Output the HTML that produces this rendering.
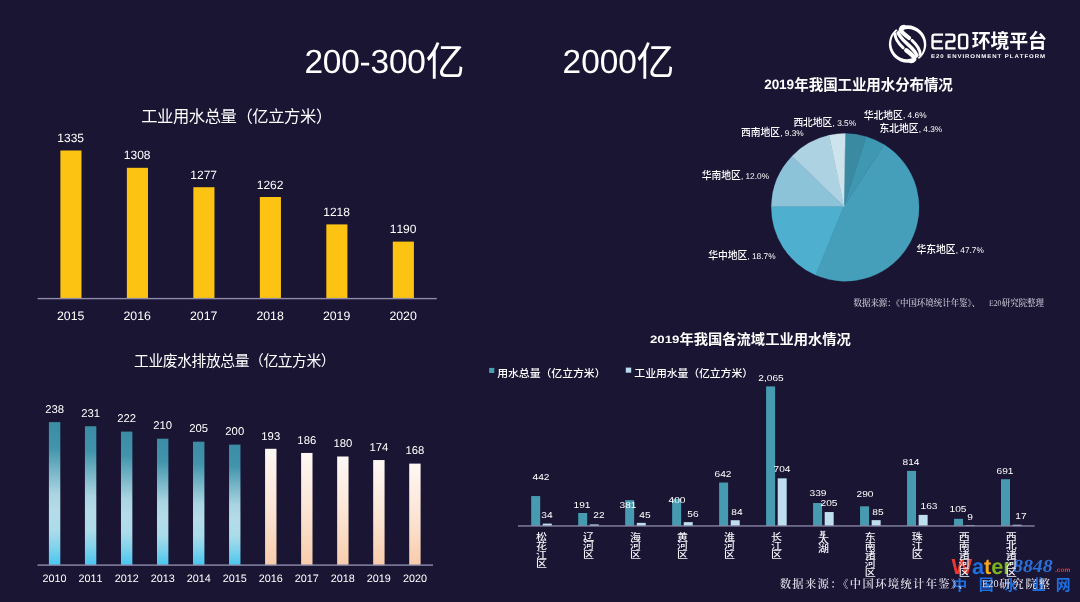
<!DOCTYPE html>
<html lang="zh"><head><meta charset="utf-8"><title>工业用水与废水排放</title>
<style>
html,body{margin:0;padding:0;background:#1a1533;}
#slide{position:relative;width:1080px;height:602px;overflow:hidden;background:#1a1533;font-family:"Liberation Sans",sans-serif;}
#layer{position:absolute;left:0;top:0;width:1080px;height:602px;filter:blur(0.45px);}
#slide svg{position:absolute;left:0;top:0;z-index:1;}
#wm{position:absolute;left:0;top:0;z-index:0;}
#wm .t{z-index:0;}
.t{position:absolute;z-index:2;text-rendering:geometricPrecision;font-kerning:none;line-height:1;white-space:nowrap;font-family:"Liberation Sans",sans-serif;color:#fff;}
.s{font-family:"Liberation Serif",serif;}
svg text{font-family:"Liberation Sans","Noto Sans CJK SC",sans-serif;}
svg text.sf{font-family:"Liberation Serif","Noto Serif CJK SC",serif;}
</style></head><body>
<div id="slide"><div id="layer">
<div id="wm"><div class="t" style="left:951.6px;top:555.55px;font-size:21.8px;color:#e8392f;font-weight:bold;">W</div>
<div class="t" style="left:971.99px;top:555.55px;font-size:21.8px;color:#1f6fe0;font-weight:bold;">a</div>
<div class="t" style="left:984px;top:555.55px;font-size:21.8px;color:#f5a81c;font-weight:bold;">t</div>
<div class="t" style="left:991.19px;top:555.55px;font-size:21.8px;color:#7ab51d;font-weight:bold;">e</div>
<div class="t" style="left:1003.2px;top:555.55px;font-size:21.8px;color:#7ab51d;font-weight:bold;">r</div>
<div class="t s" style="left:1012.8px;top:557.09px;font-size:18.4px;color:#2a6fd6;font-weight:bold;font-style:italic;transform:scale(1.08,1);transform-origin:0 83.74%;">8848</div>
<div class="t" style="left:1055px;top:568.3px;font-size:6.5px;color:#e8392f;font-weight:bold;">.com</div></div>
<svg width="1080" height="602" viewBox="0 0 1080 602">
<defs><linearGradient id="gt" x1="0" y1="0" x2="0" y2="1"><stop offset="0" stop-color="#3a8da4"/><stop offset="0.18" stop-color="#4194ab"/><stop offset="0.3" stop-color="#69adc0"/><stop offset="0.5" stop-color="#a9d4e1"/><stop offset="0.62" stop-color="#b5dce8"/><stop offset="0.76" stop-color="#aadcea"/><stop offset="0.88" stop-color="#7fd2ec"/><stop offset="1" stop-color="#47c6ef"/></linearGradient><linearGradient id="gp" x1="0" y1="0" x2="0" y2="1"><stop offset="0" stop-color="#fef8f4"/><stop offset="0.55" stop-color="#fbe3d2"/><stop offset="1" stop-color="#f8ccab"/></linearGradient></defs>
<text transform="translate(952.06,589.57) scale(1.1019,1)" font-size="13.84" font-weight="bold" fill="#1f6fe0">中</text>
<text transform="translate(978.67,589.53) scale(1.0297,1)" font-size="14.48" font-weight="bold" fill="#1f6fe0">国</text>
<text transform="translate(1004.51,589.54) scale(0.9479,1)" font-size="13.83" font-weight="bold" fill="#1f6fe0">水</text>
<text transform="translate(1031.69,590.16) scale(0.9479,1)" font-size="14.77" font-weight="bold" fill="#1f6fe0">业</text>
<text transform="translate(1055.66,589.5) scale(1.0081,1)" font-size="14.74" font-weight="bold" fill="#1f6fe0">网</text>
<text transform="translate(425.79,75.23) scale(1.0215,1)" font-size="38.1" fill="#fff">亿</text>
<text transform="translate(636.42,75.23) scale(0.9955,1)" font-size="38.1" fill="#fff">亿</text>
<text x="141.2" y="121.61" font-size="16.3" letter-spacing="-0.4" fill="#fff">工业用水总量（亿立方米）</text>
<rect x="60.4" y="150.5" width="21.1" height="148.1" fill="#fcc312"/>
<rect x="126.88" y="167.8" width="21.1" height="130.8" fill="#fcc312"/>
<rect x="193.36" y="187.2" width="21.1" height="111.4" fill="#fcc312"/>
<rect x="259.84" y="197" width="21.1" height="101.6" fill="#fcc312"/>
<rect x="326.32" y="224.4" width="21.1" height="74.2" fill="#fcc312"/>
<rect x="392.8" y="241.6" width="21.1" height="57" fill="#fcc312"/>
<rect x="37.6" y="297.9" width="399.2" height="1.4" fill="#8e8bab"/>
<text x="134.09" y="366.44" font-size="14.8" letter-spacing="-0.43" fill="#fff">工业废水排放总量（亿立方米）</text>
<rect x="48.9" y="422.1" width="11.4" height="143" fill="url(#gt)"/>
<rect x="84.93" y="426.25" width="11.4" height="138.85" fill="url(#gt)"/>
<rect x="120.96" y="431.59" width="11.4" height="133.51" fill="url(#gt)"/>
<rect x="156.99" y="438.7" width="11.4" height="126.4" fill="url(#gt)"/>
<rect x="193.02" y="441.67" width="11.4" height="123.43" fill="url(#gt)"/>
<rect x="229.05" y="444.63" width="11.4" height="120.47" fill="url(#gt)"/>
<rect x="265.08" y="448.79" width="11.4" height="116.31" fill="url(#gp)"/>
<rect x="301.11" y="452.94" width="11.4" height="112.16" fill="url(#gp)"/>
<rect x="337.14" y="456.49" width="11.4" height="108.61" fill="url(#gp)"/>
<rect x="373.17" y="460.05" width="11.4" height="105.05" fill="url(#gp)"/>
<rect x="409.2" y="463.61" width="11.4" height="101.49" fill="url(#gp)"/>
<rect x="37.5" y="564.4" width="395.5" height="1.4" fill="#8e8bab"/>
<path d="M843.9,206.3L845.2,133.6A73.8,73.8 0 0 1 866.21,136.66Z" fill="#3a8aa2" stroke="#3a8aa2" stroke-width="0.4"/>
<path d="M843.9,206.3L866.21,136.66A73.8,73.8 0 0 1 884.32,144.82Z" fill="#3f98b1" stroke="#3f98b1" stroke-width="0.4"/>
<path d="M843.9,206.3L884.32,144.82A73.8,73.8 0 0 1 815.71,275.05Z" fill="#469fba" stroke="#469fba" stroke-width="0.4"/>
<path d="M843.9,206.3L815.71,275.05A73.8,73.8 0 0 1 771.41,206.36Z" fill="#4eb0ce" stroke="#4eb0ce" stroke-width="0.4"/>
<path d="M843.9,206.3L771.41,206.36A73.8,73.8 0 0 1 792.08,156.17Z" fill="#8dc3d8" stroke="#8dc3d8" stroke-width="0.4"/>
<path d="M843.9,206.3L792.08,156.17A73.8,73.8 0 0 1 829.12,135.37Z" fill="#add3e2" stroke="#add3e2" stroke-width="0.4"/>
<path d="M843.9,206.3L829.12,135.37A73.8,73.8 0 0 1 845.2,133.6Z" fill="#cde4ed" stroke="#cde4ed" stroke-width="0.4"/>
<text x="794.35" y="89.62" font-size="14.5" font-weight="bold" letter-spacing="-0.1" fill="#fff">年我国工业用水分布情况</text>
<text x="863.78" y="118.58" font-size="9.8" font-weight="500" letter-spacing="-0.05" fill="#fff">华北地区</text>
<text x="879.48" y="131.86" font-size="9.8" font-weight="500" letter-spacing="-0.05" fill="#fff">东北地区</text>
<text x="793.38" y="126.12" font-size="9.8" font-weight="500" letter-spacing="-0.05" fill="#fff">西北地区</text>
<text x="740.98" y="135.89" font-size="9.8" font-weight="500" letter-spacing="-0.05" fill="#fff">西南地区</text>
<text x="701.68" y="178.88" font-size="9.8" font-weight="500" letter-spacing="-0.05" fill="#fff">华南地区</text>
<text x="708.18" y="259.28" font-size="9.8" font-weight="500" letter-spacing="-0.05" fill="#fff">华中地区</text>
<text x="916.48" y="252.78" font-size="9.8" font-weight="500" letter-spacing="-0.05" fill="#fff">华东地区</text>
<text class="sf" transform="translate(853.5,306.27) scale(0.9849,1)" font-size="8.6" font-weight="500" fill="#d0cfdc">数据来源：《中国环境统计年鉴》、</text>
<text class="sf" transform="translate(1001.73,306.27) scale(0.9849,1)" font-size="8.6" font-weight="500" fill="#d0cfdc">研究院整理</text>
<text transform="translate(679.59,344.15) scale(1.0833,1)" font-size="13.2" font-weight="bold" letter-spacing="-0.03" fill="#fff">年我国各流域工业用水情况</text>
<rect x="489.1" y="367.9" width="5.2" height="5.1" fill="#4a9cb2"/>
<text transform="translate(497.18,377.07) scale(1.0583,1)" font-size="10.3" font-weight="500" letter-spacing="-0.05" fill="#fff">用水总量（亿立方米）</text>
<rect x="625.8" y="367.6" width="5.4" height="5.1" fill="#b9dbee"/>
<text transform="translate(634.35,377.07) scale(1.0583,1)" font-size="10.3" font-weight="500" letter-spacing="-0.1" fill="#fff">工业用水量（亿立方米）</text>
<rect x="531.2" y="496.04" width="9" height="29.86" fill="#469bb1"/>
<rect x="542.8" y="523.6" width="9" height="2.3" fill="#bfdfee"/>
<text transform="translate(536,539.91) scale(1.2571,1)" font-size="8.75" font-weight="500" fill="#f4f4f8"><tspan x="0" y="0">松</tspan><tspan x="0" y="8.93">花</tspan><tspan x="0" y="17.86">江</tspan><tspan x="0" y="26.79">区</tspan></text>
<rect x="578.18" y="513" width="9" height="12.9" fill="#469bb1"/>
<rect x="589.78" y="524.41" width="9" height="1.49" fill="#bfdfee"/>
<text transform="translate(582.98,539.91) scale(1.2571,1)" font-size="8.75" font-weight="500" fill="#f4f4f8"><tspan x="0" y="0">辽</tspan><tspan x="0" y="8.93">河</tspan><tspan x="0" y="17.86">区</tspan></text>
<rect x="625.16" y="500.16" width="9" height="25.74" fill="#469bb1"/>
<rect x="636.76" y="522.86" width="9" height="3.04" fill="#bfdfee"/>
<text transform="translate(629.96,539.91) scale(1.2571,1)" font-size="8.75" font-weight="500" fill="#f4f4f8"><tspan x="0" y="0">海</tspan><tspan x="0" y="8.93">河</tspan><tspan x="0" y="17.86">区</tspan></text>
<rect x="672.14" y="498.88" width="9" height="27.02" fill="#469bb1"/>
<rect x="683.74" y="522.12" width="9" height="3.78" fill="#bfdfee"/>
<text transform="translate(676.94,539.91) scale(1.2571,1)" font-size="8.75" font-weight="500" fill="#f4f4f8"><tspan x="0" y="0">黄</tspan><tspan x="0" y="8.93">河</tspan><tspan x="0" y="17.86">区</tspan></text>
<rect x="719.12" y="482.53" width="9" height="43.37" fill="#469bb1"/>
<rect x="730.72" y="520.23" width="9" height="5.67" fill="#bfdfee"/>
<text transform="translate(723.92,539.91) scale(1.2571,1)" font-size="8.75" font-weight="500" fill="#f4f4f8"><tspan x="0" y="0">淮</tspan><tspan x="0" y="8.93">河</tspan><tspan x="0" y="17.86">区</tspan></text>
<rect x="766.1" y="386.4" width="9" height="139.5" fill="#469bb1"/>
<rect x="777.7" y="478.34" width="9" height="47.56" fill="#bfdfee"/>
<text transform="translate(770.9,539.91) scale(1.2571,1)" font-size="8.75" font-weight="500" fill="#f4f4f8"><tspan x="0" y="0">长</tspan><tspan x="0" y="8.93">江</tspan><tspan x="0" y="17.86">区</tspan></text>
<rect x="813.08" y="503" width="9" height="22.9" fill="#469bb1"/>
<rect x="824.68" y="512.05" width="9" height="13.85" fill="#bfdfee"/>
<text transform="translate(817.88,543.22) scale(1.2571,1)" font-size="8.75" font-weight="500" fill="#f4f4f8"><tspan x="0" y="0">太</tspan><tspan x="0" y="8.92">湖</tspan></text>
<rect x="860.06" y="506.31" width="9" height="19.59" fill="#469bb1"/>
<rect x="871.66" y="520.16" width="9" height="5.74" fill="#bfdfee"/>
<text transform="translate(864.86,539.91) scale(1.2571,1)" font-size="8.75" font-weight="500" fill="#f4f4f8"><tspan x="0" y="0">东</tspan><tspan x="0" y="8.93">南</tspan><tspan x="0" y="17.86">诸</tspan><tspan x="0" y="26.79">河</tspan><tspan x="0" y="35.72">区</tspan></text>
<rect x="907.04" y="470.91" width="9" height="54.99" fill="#469bb1"/>
<rect x="918.64" y="514.89" width="9" height="11.01" fill="#bfdfee"/>
<text transform="translate(911.84,539.91) scale(1.2571,1)" font-size="8.75" font-weight="500" fill="#f4f4f8"><tspan x="0" y="0">珠</tspan><tspan x="0" y="8.93">江</tspan><tspan x="0" y="17.86">区</tspan></text>
<rect x="954.02" y="518.81" width="9" height="7.09" fill="#469bb1"/>
<rect x="965.62" y="525.2" width="9" height="0.7" fill="#bfdfee"/>
<text transform="translate(958.82,539.91) scale(1.2571,1)" font-size="8.75" font-weight="500" fill="#f4f4f8"><tspan x="0" y="0">西</tspan><tspan x="0" y="8.93">南</tspan><tspan x="0" y="17.86">诸</tspan><tspan x="0" y="26.79">河</tspan><tspan x="0" y="35.72">区</tspan></text>
<rect x="1001" y="479.22" width="9" height="46.68" fill="#469bb1"/>
<rect x="1012.6" y="524.75" width="9" height="1.15" fill="#bfdfee"/>
<text transform="translate(1005.8,539.91) scale(1.2571,1)" font-size="8.75" font-weight="500" fill="#f4f4f8"><tspan x="0" y="0">西</tspan><tspan x="0" y="8.93">北</tspan><tspan x="0" y="17.86">诸</tspan><tspan x="0" y="26.79">河</tspan><tspan x="0" y="35.72">区</tspan></text>
<text transform="translate(819.58,535.21) scale(1.3061,1)" font-size="4.9" font-weight="bold" fill="#fff">其</text>
<rect x="518" y="525.3" width="516.7" height="1.3" fill="#8e8bab"/>
<text class="sf" transform="translate(779.67,588.25) scale(1.0367,1)" font-size="10.9" font-weight="600" letter-spacing="1.3" fill="#dcdce6">数据来源：《中国环境统计年鉴》、</text>
<text class="sf" transform="translate(999.27,588.25) scale(1.0367,1)" font-size="10.9" font-weight="600" letter-spacing="1.78" fill="#dcdce6">研究院整</text>
<g id="logo" fill="none" stroke="#fff" stroke-width="2.4" stroke-linejoin="round"><path d="M943.1,34.6H934.7Q932.5,34.6 932.5,36.8V46.2Q932.5,48.4 934.7,48.4H943.1M932.5,41.5H942.2"/><path d="M945.2,34.6H952.2Q954.4,34.6 954.4,36.8V39.3Q954.4,41.5 952.2,41.5H948.6Q946.4,41.5 946.4,43.7V48.4H955.6"/><rect x="959.1" y="34.6" width="8.1" height="13.8" rx="2.2"/></g>
<text x="971.75" y="48.24" font-size="18.9" font-weight="bold" letter-spacing="-0.1" fill="#fff">环境平台</text>
<clipPath id="emc"><circle r="16.3"/></clipPath>
<g id="emblem" transform="translate(907.6,44.1)" fill="none" stroke="#fff">
<g id="emh">
<path d="M-5.78,-17.78A18.7,18.7 0 0 1 11.51,14.74L9.93,13.78A16.00,16.00 0 0 0 -4.64,-14.22Z" fill="#fff" stroke="none"/>
<path d="M1.4,-6.2 C-1.6,-8.6 -5.6,-11.2 -6.5,-13.6 C-7.2,-15.6 -5.6,-16.9 -3.6,-17.1" stroke-width="4.3" stroke-linecap="round"/>
<path d="M-12.6,-10.4 C-12.6,-4.8 -8.8,-0.4 -4.4,3.7" stroke-width="3.0" stroke-linecap="round"/>
</g>
<use href="#emh" transform="rotate(180)"/>
<path d="M-10.2,-14.2 C-9.4,-8.4 -4.2,-3.6 0,0 C4.2,3.6 9.4,8.4 10.2,14.2" stroke-width="3.4" clip-path="url(#emc)"/>
</g>
</svg>
<div class="t" style="left:304.4px;top:45.73px;font-size:33.4px;color:#fff;letter-spacing:-0.18px;">200-300</div>
<div class="t" style="left:562.6px;top:45.73px;font-size:33.4px;color:#fff;">2000</div>
<div class="t" style="left:70.7px;top:132.04px;font-size:12px;color:#fff;transform:translateX(-50%);transform-origin:50% 84.65%;">1335</div>
<div class="t" style="left:70.7px;top:309.89px;font-size:12.3px;color:#fff;transform:translateX(-50%);transform-origin:50% 84.65%;">2015</div>
<div class="t" style="left:137.18px;top:149.34px;font-size:12px;color:#fff;transform:translateX(-50%);transform-origin:50% 84.65%;">1308</div>
<div class="t" style="left:137.18px;top:309.89px;font-size:12.3px;color:#fff;transform:translateX(-50%);transform-origin:50% 84.65%;">2016</div>
<div class="t" style="left:203.66px;top:168.74px;font-size:12px;color:#fff;transform:translateX(-50%);transform-origin:50% 84.65%;">1277</div>
<div class="t" style="left:203.66px;top:309.89px;font-size:12.3px;color:#fff;transform:translateX(-50%);transform-origin:50% 84.65%;">2017</div>
<div class="t" style="left:270.14px;top:178.54px;font-size:12px;color:#fff;transform:translateX(-50%);transform-origin:50% 84.65%;">1262</div>
<div class="t" style="left:270.14px;top:309.89px;font-size:12.3px;color:#fff;transform:translateX(-50%);transform-origin:50% 84.65%;">2018</div>
<div class="t" style="left:336.62px;top:205.94px;font-size:12px;color:#fff;transform:translateX(-50%);transform-origin:50% 84.65%;">1218</div>
<div class="t" style="left:336.62px;top:309.89px;font-size:12.3px;color:#fff;transform:translateX(-50%);transform-origin:50% 84.65%;">2019</div>
<div class="t" style="left:403.1px;top:223.14px;font-size:12px;color:#fff;transform:translateX(-50%);transform-origin:50% 84.65%;">1190</div>
<div class="t" style="left:403.1px;top:309.89px;font-size:12.3px;color:#fff;transform:translateX(-50%);transform-origin:50% 84.65%;">2020</div>
<div class="t" style="left:54.6px;top:404.83px;font-size:11.3px;color:#fff;transform:translateX(-50%);transform-origin:50% 84.65%;">238</div>
<div class="t" style="left:54.6px;top:573.86px;font-size:10.8px;color:#fff;transform:translateX(-50%);transform-origin:50% 84.65%;">2010</div>
<div class="t" style="left:90.63px;top:408.99px;font-size:11.3px;color:#fff;transform:translateX(-50%);transform-origin:50% 84.65%;">231</div>
<div class="t" style="left:90.63px;top:573.86px;font-size:10.8px;color:#fff;transform:translateX(-50%);transform-origin:50% 84.65%;">2011</div>
<div class="t" style="left:126.66px;top:414.32px;font-size:11.3px;color:#fff;transform:translateX(-50%);transform-origin:50% 84.65%;">222</div>
<div class="t" style="left:126.66px;top:573.86px;font-size:10.8px;color:#fff;transform:translateX(-50%);transform-origin:50% 84.65%;">2012</div>
<div class="t" style="left:162.69px;top:421.44px;font-size:11.3px;color:#fff;transform:translateX(-50%);transform-origin:50% 84.65%;">210</div>
<div class="t" style="left:162.69px;top:573.86px;font-size:10.8px;color:#fff;transform:translateX(-50%);transform-origin:50% 84.65%;">2013</div>
<div class="t" style="left:198.72px;top:424.4px;font-size:11.3px;color:#fff;transform:translateX(-50%);transform-origin:50% 84.65%;">205</div>
<div class="t" style="left:198.72px;top:573.86px;font-size:10.8px;color:#fff;transform:translateX(-50%);transform-origin:50% 84.65%;">2014</div>
<div class="t" style="left:234.75px;top:427.37px;font-size:11.3px;color:#fff;transform:translateX(-50%);transform-origin:50% 84.65%;">200</div>
<div class="t" style="left:234.75px;top:573.86px;font-size:10.8px;color:#fff;transform:translateX(-50%);transform-origin:50% 84.65%;">2015</div>
<div class="t" style="left:270.78px;top:431.52px;font-size:11.3px;color:#fff;transform:translateX(-50%);transform-origin:50% 84.65%;">193</div>
<div class="t" style="left:270.78px;top:573.86px;font-size:10.8px;color:#fff;transform:translateX(-50%);transform-origin:50% 84.65%;">2016</div>
<div class="t" style="left:306.81px;top:435.67px;font-size:11.3px;color:#fff;transform:translateX(-50%);transform-origin:50% 84.65%;">186</div>
<div class="t" style="left:306.81px;top:573.86px;font-size:10.8px;color:#fff;transform:translateX(-50%);transform-origin:50% 84.65%;">2017</div>
<div class="t" style="left:342.84px;top:439.23px;font-size:11.3px;color:#fff;transform:translateX(-50%);transform-origin:50% 84.65%;">180</div>
<div class="t" style="left:342.84px;top:573.86px;font-size:10.8px;color:#fff;transform:translateX(-50%);transform-origin:50% 84.65%;">2018</div>
<div class="t" style="left:378.87px;top:442.79px;font-size:11.3px;color:#fff;transform:translateX(-50%);transform-origin:50% 84.65%;">174</div>
<div class="t" style="left:378.87px;top:573.86px;font-size:10.8px;color:#fff;transform:translateX(-50%);transform-origin:50% 84.65%;">2019</div>
<div class="t" style="left:414.9px;top:446.34px;font-size:11.3px;color:#fff;transform:translateX(-50%);transform-origin:50% 84.65%;">168</div>
<div class="t" style="left:414.9px;top:573.86px;font-size:10.8px;color:#fff;transform:translateX(-50%);transform-origin:50% 84.65%;">2020</div>
<div class="t" style="left:764.3px;top:77.99px;font-size:13.6px;color:#fff;font-weight:bold;letter-spacing:-0.15px;">2019</div>
<div class="t" style="left:903px;top:111.37px;font-size:8.3px;color:#fff;">, 4.6%</div>
<div class="t" style="left:918.7px;top:124.57px;font-size:8.3px;color:#fff;">, 4.3%</div>
<div class="t" style="left:832.6px;top:118.87px;font-size:8.3px;color:#fff;">, 3.5%</div>
<div class="t" style="left:780.2px;top:128.67px;font-size:8.3px;color:#fff;">, 9.3%</div>
<div class="t" style="left:740.9px;top:171.67px;font-size:8.3px;color:#fff;">, 12.0%</div>
<div class="t" style="left:747.4px;top:252.07px;font-size:8.3px;color:#fff;">, 18.7%</div>
<div class="t" style="left:955.7px;top:245.57px;font-size:8.3px;color:#fff;">, 47.7%</div>
<div class="t s" style="left:989.02px;top:299.07px;font-size:8.6px;color:#d0cfdc;transform:scale(0.886,1);transform-origin:0 83.74%;">E20</div>
<div class="t" style="left:650.2px;top:334.83px;font-size:10.6px;color:#fff;font-weight:bold;transform:scale(1.25,1);transform-origin:0 84.65%;">2019</div>
<div class="t" style="left:540.65px;top:473.42px;font-size:8.6px;color:#fff;transform:translateX(-50%) scale(1.18,1);transform-origin:50% 84.65%;">442</div>
<div class="t" style="left:547.35px;top:510.62px;font-size:8.6px;color:#fff;transform:translateX(-50%) scale(1.18,1);transform-origin:50% 84.65%;">34</div>
<div class="t" style="left:581.5px;top:501.32px;font-size:8.6px;color:#fff;transform:translateX(-50%) scale(1.18,1);transform-origin:50% 84.65%;">191</div>
<div class="t" style="left:598.9px;top:511.22px;font-size:8.6px;color:#fff;transform:translateX(-50%) scale(1.18,1);transform-origin:50% 84.65%;">22</div>
<div class="t" style="left:628.15px;top:501.32px;font-size:8.6px;color:#fff;transform:translateX(-50%) scale(1.18,1);transform-origin:50% 84.65%;">381</div>
<div class="t" style="left:645.05px;top:510.92px;font-size:8.6px;color:#fff;transform:translateX(-50%) scale(1.18,1);transform-origin:50% 84.65%;">45</div>
<div class="t" style="left:677.45px;top:495.62px;font-size:8.6px;color:#fff;transform:translateX(-50%) scale(1.18,1);transform-origin:50% 84.65%;">400</div>
<div class="t" style="left:693.4px;top:509.82px;font-size:8.6px;color:#fff;transform:translateX(-50%) scale(1.18,1);transform-origin:50% 84.65%;">56</div>
<div class="t" style="left:723.4px;top:469.92px;font-size:8.6px;color:#fff;transform:translateX(-50%) scale(1.18,1);transform-origin:50% 84.65%;">642</div>
<div class="t" style="left:736.75px;top:508.42px;font-size:8.6px;color:#fff;transform:translateX(-50%) scale(1.18,1);transform-origin:50% 84.65%;">84</div>
<div class="t" style="left:770.6px;top:374.12px;font-size:8.6px;color:#fff;transform:translateX(-50%) scale(1.18,1);transform-origin:50% 84.65%;">2,065</div>
<div class="t" style="left:781.55px;top:465.12px;font-size:8.6px;color:#fff;transform:translateX(-50%) scale(1.18,1);transform-origin:50% 84.65%;">704</div>
<div class="t" style="left:817.5px;top:488.52px;font-size:8.6px;color:#fff;transform:translateX(-50%) scale(1.18,1);transform-origin:50% 84.65%;">339</div>
<div class="t" style="left:828.75px;top:498.72px;font-size:8.6px;color:#fff;transform:translateX(-50%) scale(1.18,1);transform-origin:50% 84.65%;">205</div>
<div class="t" style="left:865.25px;top:489.72px;font-size:8.6px;color:#fff;transform:translateX(-50%) scale(1.18,1);transform-origin:50% 84.65%;">290</div>
<div class="t" style="left:878px;top:507.52px;font-size:8.6px;color:#fff;transform:translateX(-50%) scale(1.18,1);transform-origin:50% 84.65%;">85</div>
<div class="t" style="left:911.15px;top:457.72px;font-size:8.6px;color:#fff;transform:translateX(-50%) scale(1.18,1);transform-origin:50% 84.65%;">814</div>
<div class="t" style="left:928.6px;top:501.92px;font-size:8.6px;color:#fff;transform:translateX(-50%) scale(1.18,1);transform-origin:50% 84.65%;">163</div>
<div class="t" style="left:957.65px;top:504.92px;font-size:8.6px;color:#fff;transform:translateX(-50%) scale(1.18,1);transform-origin:50% 84.65%;">105</div>
<div class="t" style="left:969.8px;top:512.62px;font-size:8.6px;color:#fff;transform:translateX(-50%) scale(1.18,1);transform-origin:50% 84.65%;">9</div>
<div class="t" style="left:1004.5px;top:466.72px;font-size:8.6px;color:#fff;transform:translateX(-50%) scale(1.18,1);transform-origin:50% 84.65%;">691</div>
<div class="t" style="left:1020.7px;top:512.32px;font-size:8.6px;color:#fff;transform:translateX(-50%) scale(1.18,1);transform-origin:50% 84.65%;">17</div>
<div class="t s" style="left:981.74px;top:579.54px;font-size:10.4px;color:#dcdce6;transform:scale(0.987,1);transform-origin:0 83.74%;">E20</div>
<div class="t" style="left:931.4px;top:49.8px;font-size:9.8px;color:#fff;font-weight:bold;letter-spacing:1.49px;transform:scale(0.62,0.56);transform-origin:0 84.65%;">E20 ENVIRONMENT PLATFORM</div>
</div></div>
</body></html>
